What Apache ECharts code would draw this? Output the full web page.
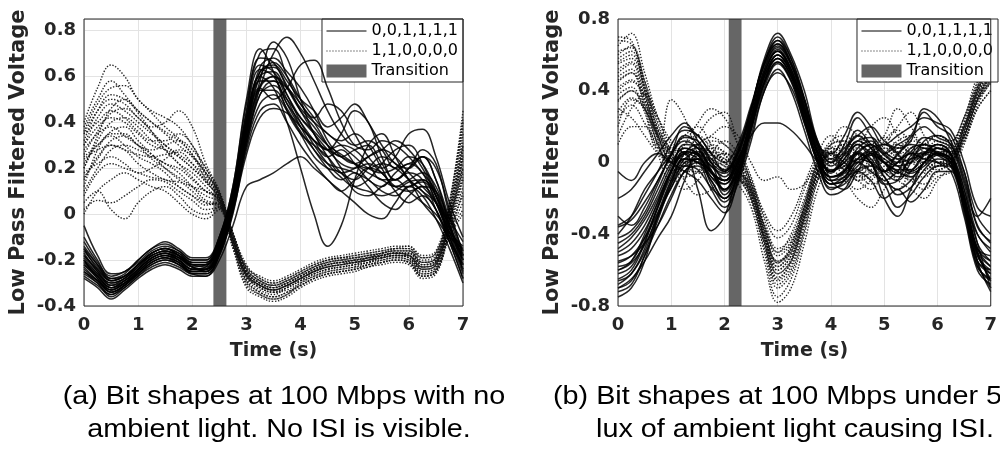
<!DOCTYPE html>
<html>
<head>
<meta charset="utf-8">
<script src="https://cdn.jsdelivr.net/npm/echarts@6/dist/echarts.min.js"></script>
<style>html,body{margin:0;padding:0;background:#fff}#c{width:1000px;height:450px}</style>
</head>
<body>
<div id="c"></div>
<script>
// ---- data ----
const timeS = [0,0.25,0.5,0.75,1,1.25,1.5,1.75,2,2.25,2.5,2.75,3,3.25,3.5,3.75,4,4.25,4.5,4.75,5,5.25,5.5,5.75,6,6.25,6.5,6.75,7];
const legendNames = ['0,0,1,1,1,1', '1,1,0,0,0,0', 'Transition'];
const transitionA = [2.39, 2.63];
const transitionB = [2.08, 2.32];
const leftYTicks = [-0.4, -0.2, 0, 0.2, 0.4, 0.6, 0.8];
const rightYTicks = [-0.8, -0.4, 0, 0.4, 0.8];
const captionA = ['(a) Bit shapes at 100 Mbps with no', 'ambient light. No ISI is visible.'];
const captionB = ['(b) Bit shapes at 100 Mbps under 5', 'lux of ambient light causing ISI.'];

const leftSolidTraces = [
[-0.20,-0.28,-0.33,-0.30,-0.25,-0.20,-0.18,-0.20,-0.24,-0.24,-0.15,0.05,0.38,0.60,0.62,0.52,0.42,0.35,0.28,0.22,0.20,0.22,0.18,0.12,0.10,0.12,0.05,-0.08,-0.18],
[-0.15,-0.24,-0.30,-0.28,-0.22,-0.17,-0.15,-0.18,-0.22,-0.22,-0.12,0.10,0.45,0.68,0.66,0.55,0.45,0.38,0.30,0.25,0.28,0.30,0.22,0.15,0.18,0.15,0.02,-0.12,-0.22],
[-0.25,-0.30,-0.36,-0.32,-0.27,-0.22,-0.20,-0.22,-0.26,-0.26,-0.18,0.00,0.30,0.52,0.58,0.55,0.48,0.40,0.30,0.20,0.12,0.10,0.08,0.10,0.14,0.15,0.08,-0.05,-0.25],
[-0.10,-0.20,-0.28,-0.26,-0.20,-0.15,-0.13,-0.16,-0.20,-0.20,-0.10,0.12,0.50,0.72,0.62,0.45,0.35,0.30,0.25,0.18,0.15,0.20,0.25,0.22,0.15,0.05,-0.02,-0.10,-0.15],
[-0.22,-0.27,-0.32,-0.29,-0.24,-0.19,-0.17,-0.19,-0.23,-0.25,-0.16,0.04,0.35,0.58,0.75,0.68,0.50,0.35,0.28,0.35,0.45,0.40,0.25,0.15,0.20,0.25,0.15,-0.05,-0.20],
[-0.18,-0.25,-0.31,-0.29,-0.24,-0.19,-0.17,-0.20,-0.24,-0.23,-0.14,0.05,0.32,0.55,0.70,0.77,0.70,0.58,0.45,0.35,0.30,0.32,0.28,0.20,0.22,0.25,0.15,-0.02,-0.18],
[-0.28,-0.32,-0.37,-0.33,-0.28,-0.24,-0.22,-0.24,-0.27,-0.27,-0.20,-0.05,0.12,0.15,0.18,0.22,0.25,0.20,0.15,0.10,0.15,0.20,0.18,0.10,0.05,0.08,0.02,-0.12,-0.28],
[-0.20,-0.26,-0.30,-0.28,-0.23,-0.18,-0.16,-0.18,-0.22,-0.22,-0.13,0.08,0.40,0.60,0.55,0.40,0.20,0.00,-0.14,-0.05,0.15,0.30,0.35,0.25,0.15,0.10,0.05,-0.05,-0.20],
[-0.15,-0.22,-0.28,-0.27,-0.22,-0.17,-0.15,-0.17,-0.21,-0.21,-0.12,0.08,0.38,0.55,0.50,0.55,0.65,0.67,0.55,0.40,0.30,0.28,0.32,0.30,0.25,0.18,0.10,-0.05,-0.22],
[-0.25,-0.29,-0.33,-0.30,-0.26,-0.21,-0.19,-0.21,-0.25,-0.24,-0.15,0.03,0.33,0.55,0.60,0.50,0.38,0.28,0.20,0.15,0.18,0.12,0.05,0.02,0.08,0.12,0.10,-0.02,-0.12],
[-0.12,-0.21,-0.27,-0.25,-0.21,-0.16,-0.14,-0.16,-0.20,-0.20,-0.10,0.12,0.48,0.70,0.72,0.60,0.48,0.42,0.48,0.45,0.35,0.25,0.20,0.25,0.35,0.37,0.25,0.05,-0.10],
[-0.27,-0.31,-0.35,-0.31,-0.26,-0.22,-0.20,-0.22,-0.26,-0.27,-0.17,0.02,0.28,0.45,0.48,0.40,0.30,0.22,0.15,0.10,0.05,0.00,-0.02,0.05,0.12,0.08,-0.02,-0.15,-0.30],
[-0.05,-0.18,-0.26,-0.25,-0.20,-0.15,-0.12,-0.15,-0.19,-0.19,-0.10,0.10,0.42,0.62,0.65,0.58,0.50,0.45,0.38,0.42,0.48,0.40,0.30,0.22,0.20,0.25,0.20,0.02,-0.18],
[-0.22,-0.28,-0.34,-0.31,-0.25,-0.20,-0.18,-0.21,-0.25,-0.25,-0.16,0.04,0.36,0.58,0.58,0.48,0.40,0.32,0.25,0.28,0.22,0.15,0.12,0.18,0.22,0.18,0.05,-0.10,-0.26],
[-0.18,-0.24,-0.29,-0.27,-0.22,-0.18,-0.16,-0.19,-0.23,-0.22,-0.13,0.06,0.40,0.64,0.68,0.62,0.55,0.45,0.32,0.25,0.22,0.25,0.28,0.32,0.28,0.20,0.08,-0.08,-0.20],
[-0.20,-0.27,-0.32,-0.29,-0.24,-0.19,-0.17,-0.19,-0.23,-0.24,-0.15,0.04,0.30,0.48,0.52,0.45,0.35,0.25,0.20,0.18,0.10,0.08,0.12,0.15,0.10,0.05,0.00,-0.08,-0.14],
[-0.17,-0.25,-0.31,-0.28,-0.23,-0.18,-0.16,-0.18,-0.22,-0.23,-0.14,0.06,0.36,0.56,0.60,0.55,0.45,0.35,0.25,0.18,0.20,0.25,0.28,0.25,0.18,0.12,0.05,-0.10,-0.22],
[-0.23,-0.29,-0.34,-0.31,-0.26,-0.21,-0.19,-0.21,-0.25,-0.25,-0.16,0.03,0.32,0.52,0.56,0.50,0.42,0.36,0.30,0.26,0.22,0.18,0.15,0.12,0.15,0.18,0.12,-0.04,-0.20],
[-0.19,-0.26,-0.32,-0.30,-0.25,-0.20,-0.18,-0.20,-0.24,-0.24,-0.15,0.05,0.40,0.62,0.64,0.56,0.46,0.40,0.35,0.30,0.25,0.20,0.18,0.20,0.25,0.22,0.10,-0.06,-0.16],
[-0.14,-0.22,-0.29,-0.27,-0.22,-0.17,-0.15,-0.17,-0.21,-0.21,-0.11,0.09,0.44,0.65,0.62,0.52,0.40,0.30,0.22,0.16,0.12,0.15,0.22,0.28,0.30,0.22,0.08,-0.08,-0.24],
[-0.26,-0.30,-0.35,-0.32,-0.27,-0.23,-0.21,-0.23,-0.26,-0.26,-0.18,0.01,0.26,0.42,0.46,0.44,0.38,0.32,0.28,0.25,0.22,0.20,0.22,0.20,0.15,0.10,0.02,-0.12,-0.28],
[-0.21,-0.27,-0.33,-0.30,-0.24,-0.19,-0.17,-0.20,-0.24,-0.24,-0.15,0.05,0.37,0.60,0.66,0.60,0.50,0.42,0.35,0.32,0.35,0.30,0.20,0.12,0.12,0.15,0.08,-0.06,-0.18],
[-0.16,-0.23,-0.29,-0.27,-0.22,-0.17,-0.15,-0.18,-0.22,-0.22,-0.12,0.07,0.42,0.63,0.60,0.48,0.38,0.32,0.28,0.30,0.28,0.22,0.15,0.15,0.20,0.28,0.22,0.00,-0.16],
[-0.24,-0.29,-0.34,-0.31,-0.26,-0.21,-0.19,-0.22,-0.25,-0.25,-0.17,0.02,0.34,0.54,0.54,0.46,0.36,0.28,0.22,0.20,0.18,0.15,0.10,0.08,0.12,0.14,0.06,-0.10,-0.24]
];

const leftDottedTraces = [
[0.30,0.38,0.42,0.40,0.35,0.30,0.28,0.25,0.20,0.15,0.08,-0.10,-0.25,-0.30,-0.32,-0.30,-0.27,-0.24,-0.22,-0.21,-0.20,-0.19,-0.18,-0.17,-0.17,-0.22,-0.20,0.00,0.25],
[0.40,0.55,0.65,0.60,0.50,0.45,0.42,0.38,0.30,0.20,0.10,-0.08,-0.22,-0.28,-0.30,-0.28,-0.25,-0.22,-0.20,-0.19,-0.18,-0.17,-0.16,-0.15,-0.15,-0.20,-0.18,0.05,0.40],
[0.15,0.25,0.30,0.28,0.22,0.18,0.15,0.14,0.12,0.10,0.06,-0.12,-0.28,-0.33,-0.35,-0.32,-0.29,-0.26,-0.24,-0.23,-0.22,-0.21,-0.19,-0.18,-0.19,-0.24,-0.22,-0.05,0.15],
[0.05,0.10,0.02,-0.02,0.05,0.10,0.12,0.08,0.02,0.00,0.03,-0.14,-0.30,-0.35,-0.37,-0.35,-0.30,-0.27,-0.25,-0.24,-0.23,-0.22,-0.20,-0.19,-0.20,-0.26,-0.24,-0.08,0.10],
[0.35,0.45,0.50,0.48,0.42,0.38,0.40,0.45,0.38,0.22,0.10,-0.08,-0.24,-0.29,-0.31,-0.29,-0.26,-0.23,-0.20,-0.19,-0.19,-0.18,-0.17,-0.15,-0.14,-0.19,-0.17,0.02,0.30],
[0.20,0.32,0.40,0.42,0.38,0.32,0.28,0.22,0.18,0.12,0.05,-0.11,-0.26,-0.31,-0.33,-0.31,-0.28,-0.25,-0.23,-0.22,-0.21,-0.20,-0.18,-0.17,-0.18,-0.23,-0.21,-0.02,0.20],
[0.10,0.20,0.28,0.30,0.28,0.25,0.22,0.18,0.12,0.06,0.04,-0.13,-0.29,-0.34,-0.36,-0.34,-0.31,-0.28,-0.26,-0.25,-0.24,-0.22,-0.21,-0.20,-0.21,-0.27,-0.25,-0.08,0.05],
[0.38,0.50,0.58,0.52,0.45,0.40,0.35,0.30,0.25,0.18,0.09,-0.09,-0.23,-0.27,-0.29,-0.27,-0.24,-0.21,-0.19,-0.18,-0.17,-0.16,-0.15,-0.14,-0.14,-0.18,-0.16,0.05,0.45],
[0.25,0.30,0.35,0.35,0.30,0.28,0.30,0.32,0.28,0.20,0.08,-0.10,-0.25,-0.30,-0.32,-0.30,-0.27,-0.24,-0.22,-0.21,-0.21,-0.19,-0.18,-0.17,-0.17,-0.22,-0.20,0.00,0.30],
[0.00,0.10,0.15,0.18,0.15,0.12,0.10,0.05,0.00,-0.02,0.02,-0.15,-0.32,-0.36,-0.38,-0.36,-0.32,-0.29,-0.27,-0.26,-0.25,-0.23,-0.22,-0.21,-0.22,-0.28,-0.26,-0.10,0.00],
[0.30,0.42,0.48,0.45,0.40,0.35,0.30,0.26,0.22,0.16,0.07,-0.10,-0.25,-0.30,-0.32,-0.30,-0.27,-0.24,-0.21,-0.20,-0.20,-0.19,-0.17,-0.16,-0.16,-0.21,-0.19,0.02,0.35],
[0.18,0.22,0.25,0.22,0.18,0.20,0.24,0.28,0.25,0.15,0.06,-0.11,-0.27,-0.32,-0.34,-0.32,-0.29,-0.26,-0.24,-0.23,-0.22,-0.20,-0.19,-0.18,-0.19,-0.25,-0.23,-0.04,0.18],
[0.12,0.28,0.36,0.38,0.32,0.26,0.20,0.15,0.10,0.05,0.03,-0.12,-0.27,-0.32,-0.34,-0.33,-0.30,-0.27,-0.25,-0.24,-0.23,-0.21,-0.20,-0.19,-0.20,-0.26,-0.24,-0.06,0.12],
[0.28,0.35,0.38,0.34,0.30,0.26,0.22,0.20,0.15,0.10,0.07,-0.11,-0.26,-0.31,-0.33,-0.31,-0.28,-0.25,-0.23,-0.22,-0.21,-0.20,-0.19,-0.18,-0.18,-0.23,-0.21,-0.03,0.22],
[0.22,0.30,0.34,0.30,0.25,0.22,0.18,0.12,0.08,0.04,0.05,-0.12,-0.27,-0.31,-0.33,-0.31,-0.28,-0.25,-0.22,-0.21,-0.20,-0.19,-0.18,-0.17,-0.18,-0.24,-0.22,-0.03,0.20],
[0.35,0.40,0.45,0.42,0.36,0.32,0.32,0.35,0.30,0.18,0.09,-0.09,-0.24,-0.29,-0.31,-0.29,-0.26,-0.23,-0.21,-0.20,-0.19,-0.18,-0.17,-0.16,-0.16,-0.21,-0.19,0.03,0.38],
[0.32,0.45,0.52,0.50,0.45,0.40,0.36,0.32,0.26,0.17,0.08,-0.09,-0.24,-0.29,-0.31,-0.29,-0.26,-0.23,-0.21,-0.20,-0.19,-0.18,-0.17,-0.16,-0.16,-0.21,-0.19,0.01,0.32],
[0.08,0.18,0.22,0.20,0.18,0.16,0.15,0.12,0.08,0.05,0.04,-0.13,-0.29,-0.34,-0.36,-0.34,-0.31,-0.28,-0.26,-0.25,-0.24,-0.22,-0.21,-0.20,-0.21,-0.27,-0.25,-0.07,0.08],
[0.26,0.36,0.44,0.46,0.42,0.36,0.30,0.25,0.20,0.14,0.07,-0.10,-0.25,-0.30,-0.32,-0.30,-0.27,-0.24,-0.22,-0.21,-0.20,-0.19,-0.18,-0.17,-0.17,-0.22,-0.20,0.00,0.26],
[0.16,0.24,0.32,0.34,0.30,0.24,0.20,0.16,0.12,0.08,0.05,-0.12,-0.27,-0.32,-0.34,-0.32,-0.29,-0.26,-0.24,-0.23,-0.22,-0.21,-0.19,-0.18,-0.19,-0.25,-0.23,-0.04,0.16],
[0.36,0.48,0.55,0.56,0.50,0.44,0.38,0.33,0.26,0.18,0.09,-0.08,-0.23,-0.28,-0.30,-0.28,-0.25,-0.22,-0.20,-0.19,-0.18,-0.17,-0.16,-0.15,-0.15,-0.19,-0.17,0.04,0.42],
[0.02,0.06,0.05,0.08,0.12,0.15,0.14,0.10,0.06,0.02,0.03,-0.14,-0.31,-0.35,-0.37,-0.35,-0.31,-0.28,-0.26,-0.25,-0.24,-0.23,-0.21,-0.20,-0.21,-0.27,-0.25,-0.09,0.02],
[0.24,0.28,0.30,0.28,0.26,0.25,0.26,0.27,0.22,0.14,0.07,-0.11,-0.26,-0.31,-0.33,-0.31,-0.28,-0.25,-0.23,-0.22,-0.21,-0.20,-0.18,-0.17,-0.18,-0.23,-0.21,-0.02,0.24],
[0.20,0.34,0.46,0.50,0.44,0.36,0.28,0.22,0.16,0.10,0.06,-0.11,-0.26,-0.31,-0.33,-0.31,-0.28,-0.25,-0.23,-0.22,-0.21,-0.20,-0.19,-0.18,-0.18,-0.24,-0.22,-0.03,0.28]
];

const rightSolidTraces = [
[-0.65,-0.60,-0.45,-0.25,-0.05,0.10,0.08,-0.05,-0.10,0.00,0.25,0.50,0.62,0.52,0.30,0.08,-0.05,0.00,0.10,0.05,-0.05,0.00,0.08,0.10,0.05,0.00,-0.25,-0.55,-0.60],
[-0.50,-0.45,-0.35,-0.20,-0.05,0.05,0.02,-0.08,-0.12,0.02,0.28,0.55,0.68,0.55,0.32,0.05,-0.08,-0.05,0.05,0.10,0.00,-0.08,-0.05,0.05,0.10,0.05,-0.20,-0.50,-0.65],
[-0.75,-0.70,-0.55,-0.30,-0.10,0.05,0.10,0.00,-0.15,-0.05,0.20,0.45,0.58,0.48,0.25,0.02,-0.10,-0.08,0.02,0.08,0.10,0.05,-0.05,0.00,0.08,0.05,-0.15,-0.45,-0.70],
[-0.40,-0.30,-0.15,-0.05,0.05,0.15,0.10,-0.05,-0.15,-0.02,0.22,0.48,0.60,0.50,0.28,0.05,-0.05,0.05,0.15,0.08,-0.05,-0.10,0.00,0.12,0.15,0.10,-0.10,-0.35,-0.45],
[-0.55,-0.52,-0.45,-0.35,-0.20,-0.05,0.00,-0.10,-0.20,-0.08,0.18,0.42,0.55,0.45,0.22,0.00,-0.12,-0.10,0.00,0.05,-0.08,-0.15,-0.10,0.00,0.05,0.02,-0.18,-0.48,-0.55],
[-0.30,-0.35,-0.25,-0.10,0.05,0.20,0.15,0.05,-0.05,0.05,0.30,0.58,0.72,0.60,0.40,0.12,0.00,0.10,0.25,0.15,0.05,0.10,0.15,0.28,0.20,0.15,-0.05,-0.30,-0.40],
[-0.60,-0.55,-0.40,-0.22,-0.05,0.05,-0.15,-0.38,-0.30,-0.05,0.20,0.45,0.60,0.50,0.28,0.05,-0.05,0.00,0.05,0.00,-0.10,-0.05,0.05,0.05,0.00,-0.05,-0.30,-0.60,-0.68],
[-0.45,-0.40,-0.30,-0.15,0.00,0.08,0.05,-0.05,-0.10,0.02,0.15,0.22,0.22,0.18,0.10,0.00,-0.08,-0.05,0.02,0.00,-0.05,0.00,0.05,0.02,0.00,-0.02,-0.22,-0.40,-0.50],
[-0.70,-0.65,-0.55,-0.42,-0.30,-0.10,0.05,0.00,-0.10,0.00,0.25,0.52,0.65,0.55,0.35,0.10,-0.10,-0.15,-0.05,0.05,0.00,-0.05,-0.08,0.00,0.05,0.02,-0.20,-0.55,-0.72],
[-0.05,-0.10,0.00,0.05,0.00,-0.05,-0.10,-0.20,-0.28,-0.10,0.20,0.50,0.62,0.50,0.25,0.00,-0.15,-0.10,0.05,0.00,-0.20,-0.30,-0.15,0.00,0.05,0.00,-0.25,-0.55,-0.62],
[-0.35,-0.30,-0.18,-0.05,0.10,0.18,0.15,0.05,0.00,0.10,0.32,0.55,0.66,0.55,0.35,0.10,0.05,0.15,0.28,0.20,0.10,0.15,0.20,0.25,0.22,0.18,0.00,-0.25,-0.30],
[-0.68,-0.62,-0.50,-0.30,-0.12,0.00,0.02,-0.12,-0.22,-0.10,0.15,0.40,0.52,0.40,0.18,-0.05,-0.18,-0.15,-0.05,-0.10,-0.20,-0.15,-0.22,-0.15,-0.05,-0.05,-0.25,-0.50,-0.58],
[-0.20,-0.15,-0.05,0.05,0.15,0.22,0.12,0.00,-0.05,0.08,0.30,0.56,0.70,0.58,0.35,0.12,0.02,0.08,0.15,0.20,0.12,0.08,0.12,0.30,0.25,0.12,-0.05,-0.30,-0.20],
[-0.58,-0.55,-0.42,-0.25,-0.08,0.02,0.00,-0.05,-0.18,-0.05,0.22,0.48,0.58,0.48,0.28,0.05,-0.10,-0.05,0.08,0.12,0.05,0.00,0.02,0.05,0.10,0.05,-0.15,-0.45,-0.55],
[-0.48,-0.42,-0.32,-0.18,-0.02,0.08,0.05,-0.02,-0.08,0.05,0.26,0.52,0.63,0.52,0.30,0.05,-0.05,0.02,0.10,0.02,-0.05,0.05,0.10,0.08,0.05,0.00,-0.20,-0.48,-0.52],
[-0.72,-0.68,-0.52,-0.35,-0.18,-0.05,-0.02,-0.15,-0.25,-0.12,0.12,0.40,0.50,0.42,0.22,0.00,-0.12,-0.08,0.00,-0.05,-0.12,-0.25,-0.18,-0.08,-0.02,-0.02,-0.28,-0.58,-0.65],
[-0.62,-0.58,-0.44,-0.24,-0.06,0.06,0.04,-0.08,-0.15,-0.02,0.24,0.50,0.62,0.52,0.30,0.06,-0.06,0.02,0.12,0.08,0.00,-0.06,0.02,0.08,0.06,0.02,-0.22,-0.52,-0.62],
[-0.52,-0.48,-0.38,-0.22,-0.04,0.06,0.04,-0.06,-0.10,0.04,0.28,0.54,0.64,0.54,0.32,0.06,-0.04,-0.02,0.06,0.00,-0.12,-0.10,0.04,0.10,0.08,0.04,-0.18,-0.48,-0.58],
[-0.66,-0.62,-0.48,-0.28,-0.10,0.02,0.06,-0.04,-0.16,-0.04,0.20,0.46,0.58,0.48,0.26,0.02,-0.08,-0.04,0.06,0.10,0.04,-0.02,-0.06,-0.02,0.04,0.02,-0.20,-0.50,-0.66],
[-0.42,-0.38,-0.28,-0.12,0.04,0.12,0.08,-0.02,-0.06,0.06,0.30,0.56,0.66,0.56,0.34,0.08,-0.02,0.04,0.12,0.14,0.06,0.02,0.06,0.14,0.12,0.08,-0.12,-0.40,-0.48],
[-0.56,-0.52,-0.42,-0.28,-0.14,-0.02,-0.04,-0.14,-0.20,-0.06,0.20,0.44,0.56,0.46,0.24,0.00,-0.14,-0.12,-0.04,-0.02,-0.08,-0.18,-0.14,-0.04,0.02,0.00,-0.22,-0.52,-0.60],
[-0.70,-0.66,-0.52,-0.32,-0.12,0.02,0.00,-0.10,-0.20,-0.08,0.18,0.44,0.56,0.46,0.24,0.02,-0.12,-0.10,-0.02,0.04,0.00,-0.04,-0.04,0.04,0.08,0.04,-0.24,-0.56,-0.70],
[-0.36,-0.32,-0.22,-0.10,0.04,0.14,0.12,0.02,-0.04,0.06,0.30,0.56,0.68,0.58,0.36,0.10,0.00,0.06,0.18,0.10,0.00,0.04,0.14,0.20,0.14,0.10,-0.08,-0.36,-0.44],
[-0.60,-0.56,-0.46,-0.30,-0.14,-0.02,0.02,-0.06,-0.12,0.00,0.24,0.48,0.60,0.50,0.28,0.04,-0.08,-0.06,0.02,0.06,0.02,-0.02,0.00,0.06,0.04,-0.02,-0.26,-0.58,-0.66]
];

const rightDottedTraces = [
[0.60,0.65,0.45,0.20,0.05,0.02,0.08,0.05,0.00,-0.05,-0.15,-0.35,-0.50,-0.40,-0.20,0.00,0.08,0.05,0.00,0.05,0.10,0.05,0.00,0.05,0.10,0.05,0.15,0.35,0.50],
[0.70,0.68,0.40,0.15,0.00,-0.05,0.00,0.10,0.05,-0.08,-0.20,-0.45,-0.65,-0.55,-0.30,-0.05,0.05,0.00,-0.05,0.00,0.05,0.10,0.05,0.00,0.05,0.05,0.20,0.40,0.55],
[0.35,0.40,0.30,0.15,0.05,0.10,0.15,0.08,0.00,-0.05,-0.12,-0.30,-0.42,-0.35,-0.15,0.02,0.10,0.12,0.05,0.00,0.02,0.08,0.12,0.10,0.05,0.08,0.22,0.42,0.55],
[0.20,0.35,0.30,0.10,-0.05,-0.15,-0.10,0.00,0.05,0.00,-0.18,-0.40,-0.58,-0.48,-0.25,-0.02,0.05,-0.05,-0.10,-0.15,-0.05,0.00,-0.08,-0.12,-0.05,0.00,0.12,0.30,0.40],
[0.50,0.55,0.35,0.10,0.00,0.05,0.15,0.25,0.28,0.10,-0.12,-0.38,-0.55,-0.50,-0.28,-0.05,0.10,0.20,0.15,0.05,0.10,0.20,0.28,0.15,0.05,0.10,0.25,0.45,0.60],
[0.10,0.20,0.20,0.10,0.35,0.25,0.05,-0.05,-0.10,-0.08,-0.20,-0.50,-0.75,-0.65,-0.40,-0.10,0.05,0.00,-0.10,-0.05,0.00,-0.05,-0.10,-0.05,0.00,0.00,0.15,0.35,0.45],
[0.45,0.50,0.30,0.05,-0.10,-0.05,0.05,0.12,0.10,0.02,-0.10,-0.32,-0.48,-0.42,-0.22,0.00,0.12,0.15,0.10,0.20,0.25,0.15,0.05,0.10,0.15,0.12,0.25,0.42,0.50],
[0.65,0.72,0.50,0.25,0.10,0.05,0.00,-0.05,-0.10,-0.10,-0.18,-0.42,-0.60,-0.52,-0.30,-0.08,0.00,-0.08,-0.15,-0.10,-0.05,-0.10,-0.15,-0.20,-0.10,-0.02,0.12,0.32,0.45],
[0.30,0.25,0.15,0.05,0.00,0.10,0.22,0.30,0.25,0.10,-0.08,-0.28,-0.38,-0.30,-0.12,0.05,0.15,0.08,0.00,0.08,0.15,0.30,0.20,0.10,0.15,0.12,0.25,0.48,0.60],
[0.55,0.58,0.42,0.18,0.02,-0.10,-0.18,-0.15,-0.05,-0.02,-0.15,-0.40,-0.62,-0.55,-0.32,-0.10,-0.05,-0.10,-0.20,-0.25,-0.15,-0.05,-0.10,-0.15,-0.08,-0.05,0.10,0.30,0.40],
[0.40,0.45,0.38,0.25,0.12,0.05,0.00,0.02,0.05,0.00,-0.12,-0.35,-0.52,-0.45,-0.25,-0.02,0.08,0.10,0.15,0.10,0.00,-0.05,0.00,0.05,0.12,0.10,0.20,0.38,0.52],
[0.15,0.30,0.38,0.25,0.05,-0.05,-0.05,0.00,-0.05,-0.12,-0.25,-0.55,-0.78,-0.70,-0.45,-0.15,0.00,0.05,0.00,-0.05,-0.10,-0.15,-0.05,0.00,-0.02,0.02,0.18,0.38,0.48],
[0.58,0.62,0.40,0.12,-0.05,0.00,0.10,0.15,0.20,0.15,0.00,-0.10,-0.08,-0.15,-0.12,0.00,0.05,0.10,0.05,0.00,0.05,0.12,0.15,0.05,0.00,0.05,0.20,0.40,0.50],
[0.25,0.32,0.22,0.08,0.00,0.05,0.08,0.02,-0.02,-0.05,-0.18,-0.42,-0.58,-0.50,-0.28,-0.05,0.05,0.02,-0.05,0.02,0.08,0.02,-0.05,0.00,0.05,0.02,0.15,0.35,0.48],
[0.48,0.52,0.32,0.10,-0.02,-0.08,-0.05,0.05,0.12,0.05,-0.10,-0.36,-0.55,-0.48,-0.26,-0.04,0.06,0.00,-0.08,0.00,0.12,0.18,0.10,0.02,0.08,0.05,0.20,0.40,0.55],
[0.38,0.42,0.28,0.08,0.08,0.15,0.20,0.10,0.00,-0.08,-0.16,-0.44,-0.68,-0.60,-0.36,-0.06,0.04,-0.02,-0.06,-0.12,-0.08,0.00,0.05,0.00,-0.04,0.00,0.16,0.36,0.46],
[0.52,0.56,0.38,0.14,0.02,0.02,0.06,0.04,0.02,-0.04,-0.14,-0.38,-0.56,-0.48,-0.26,-0.04,0.06,0.04,0.00,0.04,0.08,0.06,0.02,0.04,0.08,0.04,0.16,0.36,0.50],
[0.62,0.64,0.44,0.18,0.04,-0.02,0.02,0.06,0.04,-0.06,-0.18,-0.44,-0.64,-0.56,-0.32,-0.06,0.04,0.00,-0.04,-0.02,0.02,0.06,0.04,0.00,0.04,0.04,0.18,0.38,0.52],
[0.42,0.46,0.34,0.14,0.00,-0.02,0.04,0.08,0.06,-0.02,-0.14,-0.40,-0.60,-0.52,-0.30,-0.06,0.06,0.08,0.04,0.02,0.04,0.08,0.06,0.02,0.06,0.06,0.18,0.40,0.54],
[0.28,0.36,0.30,0.14,0.02,0.00,0.02,0.00,-0.04,-0.08,-0.20,-0.46,-0.66,-0.58,-0.34,-0.08,0.02,-0.02,-0.06,-0.04,0.00,-0.02,-0.04,-0.06,-0.02,0.00,0.14,0.34,0.44],
[0.56,0.60,0.42,0.16,0.02,0.04,0.10,0.14,0.10,0.02,-0.12,-0.36,-0.50,-0.44,-0.24,-0.02,0.10,0.12,0.08,0.10,0.14,0.10,0.08,0.08,0.10,0.08,0.22,0.44,0.58],
[0.46,0.50,0.36,0.16,0.06,0.00,-0.06,-0.04,0.00,-0.04,-0.16,-0.42,-0.62,-0.54,-0.30,-0.06,0.02,-0.04,-0.10,-0.08,-0.04,-0.06,-0.08,-0.08,-0.02,0.00,0.14,0.34,0.46],
[0.34,0.40,0.32,0.18,0.08,0.06,0.08,0.06,0.02,-0.04,-0.16,-0.40,-0.56,-0.46,-0.24,0.00,0.08,0.06,0.02,0.06,0.10,0.04,0.00,0.02,0.06,0.06,0.20,0.42,0.56],
[0.68,0.66,0.46,0.22,0.06,0.00,0.04,0.02,-0.02,-0.08,-0.22,-0.48,-0.70,-0.62,-0.38,-0.10,0.00,-0.04,-0.08,-0.06,-0.02,0.02,0.00,-0.04,0.00,0.02,0.16,0.36,0.48]
];

// ---- chart ----
const chart = echarts.init(document.getElementById('c'), null, {renderer: 'canvas'});
const tickFont = {fontFamily: 'DejaVu Sans', fontWeight: 'bold', fontSize: 18, color: '#262626'};
const gridColor = '#e3e3e3';

function yAxisCfg(gi, ticks, maxV) {
  const mn = ticks[0], step = ticks[1] - ticks[0];
  return {
    type: 'value', gridIndex: gi, min: mn, max: maxV, interval: step,
    name: 'Low Pass Filtered Voltage', nameLocation: 'middle', nameGap: 55,
    nameTextStyle: Object.assign({}, tickFont, {fontSize: 21}),
    axisLine: {show: false}, axisTick: {show: false},
    splitLine: {show: true, lineStyle: {color: gridColor, width: 1}},
    axisLabel: Object.assign({margin: 8, showMaxLabel: maxV === ticks[ticks.length - 1],
      formatter: v => ticks.some(t => Math.abs(t - v) < 1e-6) ? String(Math.round(v * 100) / 100) : ''}, tickFont)
  };
}
function xAxisCfg(gi) {
  return {
    type: 'value', gridIndex: gi, min: 0, max: 7, interval: 1,
    name: 'Time (s)', nameLocation: 'middle', nameGap: 36,
    nameTextStyle: Object.assign({}, tickFont, {fontSize: 19}),
    axisLine: {show: false}, axisTick: {show: false},
    splitLine: {show: true, lineStyle: {color: gridColor, width: 1}},
    axisLabel: Object.assign({margin: 10}, tickFont)
  };
}

const series = [];
function addTraces(traces, gi, name, dotted) {
  traces.forEach(tr => {
    series.push({
      type: 'line', name: name, xAxisIndex: gi, yAxisIndex: gi,
      data: timeS.map((t, i) => [t, tr[i]]),
      symbol: 'none', smooth: 0.4, silent: true, z: dotted ? 3 : 4,
      itemStyle: {color: '#000'},
      lineStyle: dotted ? {color: '#111', width: 1.4, type: [1.4, 1.6], opacity: 0.9}
                        : {color: '#000', width: 1.5, opacity: 0.85}
    });
  });
}
function addTransition(range, gi) {
  series.push({
    type: 'custom', name: legendNames[2], xAxisIndex: gi, yAxisIndex: gi, z: 2,
    itemStyle: {color: '#666666'}, silent: true,
    encode: {x: [0, 1]},
    data: [range],
    renderItem: function (params, api) {
      const cs = params.coordSys;
      const x0 = api.coord([api.value(0), 0])[0];
      const x1 = api.coord([api.value(1), 0])[0];
      return {type: 'rect', shape: {x: x0, y: cs.y, width: x1 - x0, height: cs.height},
              style: {fill: '#666666'}};
    }
  });
}
addTransition(transitionA, 0);
addTransition(transitionB, 1);
addTraces(leftDottedTraces, 0, legendNames[1], true);
addTraces(leftSolidTraces, 0, legendNames[0], false);
addTraces(rightDottedTraces, 1, legendNames[1], true);
addTraces(rightSolidTraces, 1, legendNames[0], false);

function legendCfg(right) {
  return {
    orient: 'vertical', right: right, top: 19,
    padding: [4, 5, 3, 4], itemGap: 4, itemWidth: 40, itemHeight: 13,
    backgroundColor: '#fff', borderColor: '#262626', borderWidth: 1, borderRadius: 0,
    selectedMode: false,
    textStyle: {fontFamily: 'DejaVu Sans', fontSize: 16, color: '#000'},
    data: [
      {name: legendNames[0], itemStyle: {opacity: 0}, lineStyle: {width: 1, opacity: 1}},
      {name: legendNames[1], itemStyle: {opacity: 0}, lineStyle: {width: 1, type: [1, 2], opacity: 1}},
      {name: legendNames[2], icon: 'rect'}
    ]
  };
}

function captionText(txt, x, y, align) {
  return {type: 'text', x: x, y: y, scaleX: 1.15, silent: true,
    style: {text: txt, x: 0, y: 0, align: align, verticalAlign: 'middle',
      font: '25px "Liberation Sans", Arial, sans-serif', fill: '#000'}};
}

chart.setOption({
  animation: false,
  backgroundColor: '#fff',
  grid: [
    {left: 84, top: 19, width: 379, height: 287, show: true, borderColor: '#262626', borderWidth: 1, backgroundColor: 'transparent', z: 10},
    {left: 618, top: 19, width: 380, height: 287, show: true, borderColor: '#262626', borderWidth: 1, backgroundColor: 'transparent', z: 10}
  ],
  xAxis: [xAxisCfg(0), xAxisCfg(1)],
  yAxis: [yAxisCfg(0, leftYTicks, 0.85), yAxisCfg(1, rightYTicks, 0.8)],
  legend: [legendCfg(1000 - 463), legendCfg(2)],
  series: series,
  graphic: [
    captionText(captionA[0], 284, 397, 'center'),
    captionText(captionA[1], 279, 430, 'center'),
    captionText(captionB[0], 553, 397, 'left'),
    captionText(captionB[1], 795, 430, 'center')
  ]
});
</script>
</body>
</html>
